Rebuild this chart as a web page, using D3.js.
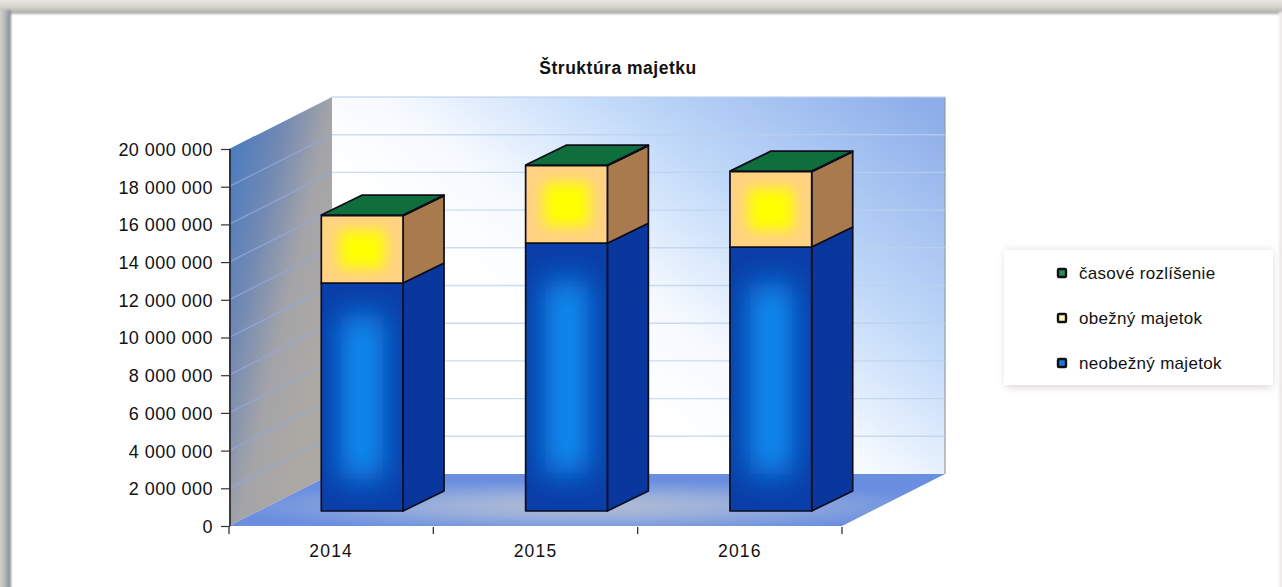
<!DOCTYPE html>
<html><head><meta charset="utf-8">
<script src="https://cdn.jsdelivr.net/npm/d3@7/dist/d3.min.js"></script>
<style>html,body{margin:0;padding:0;background:#fff;overflow:hidden}svg{display:block}text{font-family:"Liberation Sans",Arial,sans-serif;fill:#111}</style>
</head><body><svg id="c" width="1282" height="587"></svg>
<script>
const chartTitle = "Štruktúra majetku";
const years = ["2014","2015","2016"];
const neobezny = [12090000,14210000,14000000];
const obezny = [3580000,4110000,4000000];
const casove = [30000,30000,30000];
const legendLabels = ["časové rozlíšenie","obežný majetok","neobežný majetok"];
const yTicks = [0,2e6,4e6,6e6,8e6,1e7,1.2e7,1.4e7,1.6e7,1.8e7,2e7];

const svg = d3.select("#c");
const defs = svg.append("defs");
function grad(id,type,attrs,stops){
  const g = defs.append(type).attr("id",id);
  Object.entries(attrs).forEach(([k,v])=>g.attr(k,v));
  stops.forEach(s=>g.append("stop").attr("offset",s[0]).attr("stop-color",s[1]));
}
grad("back","linearGradient",{x1:.32,y1:.6,x2:1,y2:.05},[[0,"#ffffff"],[.22,"#f6faff"],[.55,"#c0d9f9"],[1,"#8cade9"]]);
grad("side","linearGradient",{x1:0,y1:0,x2:.75,y2:.7},[[0,"#3f78c4"],[.4,"#7088b4"],[.72,"#a4a4a8"],[1,"#aca8a4"]]);
grad("floor","radialGradient",{cx:.5,cy:.62,r:.5},[[0,"#b4bdd2"],[.45,"#98aedb"],[1,"#6a8fe0"]]);
grad("frameT","linearGradient",{x1:0,y1:0,x2:0,y2:1},[[0,"#f4f2ee"],[.6,"#d6d4cf"],[1,"#a8a8a6"]]);
grad("frameL","linearGradient",{x1:0,y1:0,x2:1,y2:0},[[0,"#e2e0dc"],[.55,"#bcbcba"],[1,"#7c8892"]]);

const mkBlur=(id,s)=>{const f=defs.append("filter").attr("id",id).attr("x","-200%").attr("y","-100%").attr("width","500%").attr("height","300%");f.append("feGaussianBlur").attr("stdDeviation",s);};
mkBlur("sh",4); mkBlur("coreB",15); mkBlur("coreY",7); mkBlur("fr",1.2);
defs.select("#sh").attr("x","-10%").attr("y","-20%").attr("width","120%").attr("height","140%");

const root = svg.append("g");
// scanned page frame
const fr = root.append("g").attr("filter","url(#fr)");
fr.append("rect").attr("x",-4).attr("y",-4).attr("width",1290).attr("height",18).attr("fill","url(#frameT)");
fr.append("rect").attr("x",-4).attr("y",10).attr("width",15).attr("height",590).attr("fill","url(#frameL)");
fr.append("rect").attr("x",1279).attr("y",12).attr("width",6).attr("height",580).attr("fill","#eeecea");

const x = d3.scaleBand().domain(years).range([229,842]);
const y = d3.scaleLinear().domain([0,2e7]).range([526,149]);
const wall = {dx:103,dy:-52};
const barOff = {dx:31,dy:-15};
const barDepth = {dx:41,dy:-20};
const barW = x.bandwidth()*0.4;
const poly = p=>p.map(a=>a.join(",")).join(" ");

const g = root.append("g");
const [x0,x1] = x.range(), y0=y(0), yT=y(2e7);
g.append("polygon").attr("points",poly([[x0+wall.dx,yT+wall.dy],[x1+wall.dx,yT+wall.dy],[x1+wall.dx,y0+wall.dy],[x0+wall.dx,y0+wall.dy]])).attr("fill","url(#back)");
g.append("line").attr("x1",x1+wall.dx).attr("x2",x1+wall.dx).attr("y1",yT+wall.dy).attr("y2",y0+wall.dy).attr("stroke","#9a9a9a").attr("stroke-width",1.2);
g.append("polygon").attr("points",poly([[x0,yT],[x0+wall.dx,yT+wall.dy],[x0+wall.dx,y0+wall.dy],[x0,y0]])).attr("fill","url(#side)");
yTicks.forEach(t=>{
  if(t>0) g.append("line").attr("x1",x0+wall.dx).attr("x2",x1+wall.dx).attr("y1",y(t)+wall.dy).attr("y2",y(t)+wall.dy).attr("stroke","#bcd0ec").attr("stroke-opacity",.75).attr("stroke-width",1.4);
  if(t>0&&t<2e7) g.append("line").attr("x1",x0).attr("x2",x0+wall.dx).attr("y1",y(t)).attr("y2",y(t)+wall.dy).attr("stroke","#93a8dc").attr("stroke-opacity",.8).attr("stroke-width",1.4);
});
g.append("polygon").attr("points",poly([[x0,y0],[x1,y0],[x1+wall.dx,y0+wall.dy],[x0+wall.dx,y0+wall.dy]])).attr("fill","url(#floor)");

// bars
years.forEach((yr,i)=>{
  const left = x(yr)+x.bandwidth()/2-barW/2+barOff.dx;
  const right = left+barW;
  const v1=neobezny[i], v2=v1+obezny[i], v3=v2+casove[i];
  const b = g.append("g").attr("stroke","#0d0d1c").attr("stroke-width",1.7).attr("stroke-linejoin","round");
  const yb = v=>y(v)+barOff.dy;
  const segs = [
    {a:0,c:v1,edge:"#0a3ea8",core:"#0a90f4",side:"#0a379e",ix:.24,iy:.14,blur:"coreB"},
    {a:v1,c:v2,edge:"#ffd283",core:"#ffff00",side:"#a87a4e",ix:.22,iy:.22,blur:"coreY"}
  ];
  segs.forEach((s,j)=>{
    b.append("polygon").attr("points",poly([[right,yb(s.a)],[right+barDepth.dx,yb(s.a)+barDepth.dy],[right+barDepth.dx,yb(s.c)+barDepth.dy],[right,yb(s.c)]])).attr("fill",s.side);
    const h = yb(s.a)-yb(s.c);
    const cid = `clip${i}${j}`;
    defs.append("clipPath").attr("id",cid).append("rect").attr("x",left).attr("y",yb(s.c)).attr("width",barW).attr("height",h);
    b.append("rect").attr("x",left).attr("y",yb(s.c)).attr("width",barW).attr("height",h).attr("fill",s.edge).attr("stroke","none");
    b.append("g").attr("clip-path",`url(#${cid})`).append("rect")
      .attr("x",left+barW*s.ix).attr("y",yb(s.c)+h*s.iy).attr("width",barW*(1-2*s.ix)).attr("height",h*(1-2*s.iy))
      .attr("fill",s.core).attr("stroke","none").attr("filter",`url(#${s.blur})`);
    b.append("rect").attr("x",left).attr("y",yb(s.c)).attr("width",barW).attr("height",h).attr("fill","none");
  });
  b.append("polygon").attr("points",poly([[right,yb(v2)],[right+barDepth.dx,yb(v2)+barDepth.dy],[right+barDepth.dx,yb(v3)+barDepth.dy],[right,yb(v3)]])).attr("fill","#0f6f3c");
  b.append("polygon").attr("points",poly([[left,yb(v3)],[right,yb(v3)],[right+barDepth.dx,yb(v3)+barDepth.dy],[left+barDepth.dx,yb(v3)+barDepth.dy]])).attr("fill","#0f6f3c");
});

// axes
const FF='"Liberation Sans",Arial,sans-serif';
const yAxis = d3.axisLeft(y).tickValues(yTicks).tickSize(9).tickPadding(8)
  .tickFormat(d=>d3.format(",")(d).replace(/,/g," "));
const ya = root.append("g").attr("transform",`translate(${x0+1},0)`).call(yAxis);
ya.selectAll("path").attr("stroke","#222").attr("stroke-width",1.6).attr("d",`M0,${yT}V${y0}`);
ya.selectAll("line").attr("stroke","#333").attr("stroke-width",1.2);
ya.selectAll("text").style("font-size","18px").style("letter-spacing","0.45px").attr("dy","0.36em").style("font-family",FF);

const xAxis = d3.axisBottom(x).tickSize(0).tickPadding(19);
const xa = root.append("g").attr("transform",`translate(0,${y0})`).call(xAxis);
xa.select("path").remove();
xa.selectAll("text").style("font-size","17.5px").style("letter-spacing","1.2px").style("font-family",FF);
root.append("g").selectAll("line").data(years.concat(["end"])).join("line")
  .attr("x1",d=>d==="end"?x1:x(d)).attr("x2",d=>d==="end"?x1:x(d)).attr("y1",y0+1).attr("y2",y0+8)
  .attr("stroke","#333").attr("stroke-width",1.3);

// title
root.append("text").attr("x",618).attr("y",74).attr("text-anchor","middle")
  .attr("font-size",17.5).attr("font-weight","bold").attr("letter-spacing","0.5").text(chartTitle);

// legend
root.append("rect").attr("x",1006).attr("y",251).attr("width",266).attr("height",136).attr("fill","#d9d2d2").attr("filter","url(#sh)");
root.append("rect").attr("x",1004).attr("y",250).attr("width",269).attr("height",135).attr("fill","#fff");
const legendFills = ["#2a8a58","#fff8c0","#1a78e0"];
legendLabels.forEach((l,i)=>{
  const ly = 273+i*45;
  root.append("rect").attr("x",1058).attr("y",ly-4).attr("width",8).attr("height",8).attr("rx",1)
    .attr("fill",legendFills[i]).attr("stroke","#111").attr("stroke-width",2.4);
  root.append("text").attr("x",1079).attr("y",ly+6).attr("font-size",17).attr("letter-spacing","0.3").text(l);
});
</script></body></html>
